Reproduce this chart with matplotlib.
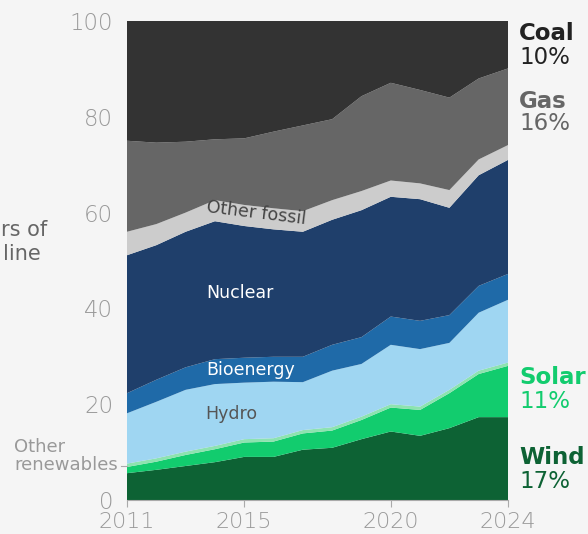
import matplotlib
matplotlib.use("Agg")
import matplotlib.pyplot as plt

years = [2011, 2012, 2013, 2014, 2015, 2016, 2017, 2018, 2019, 2020, 2021, 2022, 2023, 2024]
wind = [5.6, 6.3, 7.1, 7.9, 9.0, 9.0, 10.5, 10.9, 12.7, 14.3, 13.4, 15.0, 17.3, 17.3]
solar = [1.3, 1.7, 2.3, 2.7, 3.0, 3.2, 3.4, 3.6, 4.0, 5.0, 5.4, 7.3, 9.0, 10.7]
other_ren = [0.7, 0.7, 0.7, 0.7, 0.7, 0.7, 0.7, 0.7, 0.7, 0.7, 0.7, 0.7, 0.7, 0.7]
hydro = [10.5, 11.8, 12.9, 12.9, 11.8, 11.8, 10.0, 11.8, 11.0, 12.4, 12.0, 9.8, 12.1, 13.1]
bio = [4.2, 4.6, 4.7, 5.2, 5.2, 5.2, 5.3, 5.4, 5.6, 5.9, 5.9, 5.8, 5.6, 5.4]
nuclear = [28.8, 28.1, 28.3, 28.8, 27.5, 26.6, 26.1, 26.1, 26.5, 25.0, 25.4, 22.4, 23.1, 23.8]
other_fossil = [4.9, 4.4, 4.0, 4.4, 4.4, 4.4, 4.3, 4.1, 4.0, 3.4, 3.3, 3.7, 3.3, 3.1]
gas = [19.0, 17.0, 14.8, 12.7, 13.9, 16.0, 17.9, 16.9, 19.8, 20.4, 19.5, 19.3, 16.9, 16.0]
coal = [25.0, 25.4, 25.2, 24.7, 24.5, 23.1, 21.8, 20.5, 15.7, 12.9, 14.4, 16.0, 12.0, 9.9]

colors = ["#0d6234", "#12cc6e", "#8de3b0", "#9fd6f2", "#1f6aa8", "#1f3f6b",
          "#cccccc", "#666666", "#333333"]

BG = "#f5f5f5"
plt.rcParams['font.family'] = ["DejaVu Sans"]

fig = plt.figure(figsize=(5.88, 5.34), dpi=100, facecolor=BG)
ax = fig.add_axes([127/588, 34/534, 381/588, 479/534])
ax.set_facecolor(BG)

ax.stackplot(years, wind, solar, other_ren, hydro, bio, nuclear, other_fossil, gas, coal,
             colors=colors, linewidth=0)

ax.set_xlim(2011, 2024)
ax.set_ylim(0, 100)
for s in ["top", "right", "left"]:
    ax.spines[s].set_visible(False)
ax.spines["bottom"].set_color("#aaaaaa")
ax.spines["bottom"].set_linewidth(0.8)

ax.set_xticks([2011, 2015, 2020, 2024])
ax.set_xticklabels(["2011", "2015", "2020", "2024"])
ax.set_yticks([0, 20, 40, 60, 80, 100])
ax.tick_params(axis="y", length=0, pad=10, labelsize=16.5, labelcolor="#999999")
ax.tick_params(axis="x", length=5, width=0.8, color="#aaaaaa", pad=3.5,
               labelsize=16, labelcolor="#999999")
for lab in ax.get_xticklabels() + ax.get_yticklabels():
    lab.set_fontweight("light")

# in-chart labels
ax.text(2014.86, 43.2, "Nuclear", color="white", fontsize=12.5, ha="center", va="center")
ax.text(2015.23, 27.2, "Bioenergy", color="white", fontsize=12.5, ha="center", va="center")
ax.text(2014.55, 17.9, "Hydro", color="#555555", fontsize=12.5, ha="center", va="center")
ax.text(2015.4, 59.8, "Other fossil", color="#444444", fontsize=12.5, ha="center",
        va="center", rotation=-7)

# other renewables annotation
ax.plot([-0.015, 0.0], [7.2, 7.2], transform=ax.get_yaxis_transform(),
        color="#aaaaaa", lw=0.8, clip_on=False)
fig.text(118/588, 1 - 456/534, "Other\nrenewables", color="#999999", fontsize=13,
         ha="right", va="center", multialignment="left", linespacing=1.0)

# right labels
rx = 519/588
def rlabel(y1, y2, name, pct, color):
    fig.text(rx, 1 - y1/534, name, color=color, fontsize=16.5, fontweight="bold",
             ha="left", va="center")
    fig.text(rx, 1 - y2/534, pct, color=color, fontsize=16.5, ha="left", va="center")

rlabel(33, 57, "Coal", "10%", "#222222")
rlabel(101, 124, "Gas", "16%", "#666666")
rlabel(378, 402, "Solar", "11%", "#12cc6e")
rlabel(457, 481, "Wind", "17%", "#0d6234")

# cropped left text
fig.text(47/588, 1 - 230/534, "rs of", color="#666666", fontsize=15, ha="right", va="center")
fig.text(41/588, 1 - 254/534, "line", color="#666666", fontsize=15, ha="right", va="center")

fig.savefig("out.png", dpi=100, facecolor=BG)
